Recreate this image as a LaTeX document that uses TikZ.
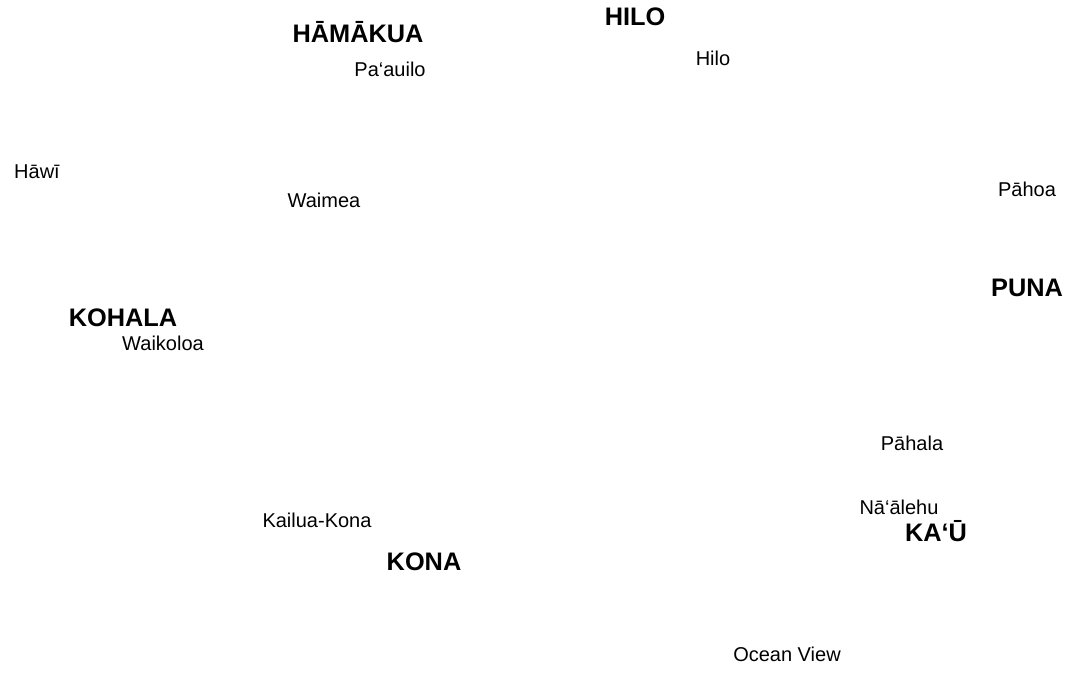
\documentclass[tikz,border=0pt]{standalone}
\usepackage{fontspec}
\setmainfont{Liberation Sans}
\usepackage{tikz}
\usetikzlibrary{positioning}

\begin{document}
\begin{tikzpicture}[x=0.75pt,y=-0.75pt,
    district/.style={font=\fontsize{19}{22}\selectfont\bfseries,inner sep=0pt},
    town/.style={font=\fontsize{15}{18}\selectfont,inner sep=0pt}]
  \useasboundingbox (0,0) rectangle (1066,694);
% districts
  \node[district] (hamakua) at (358,32)  {HĀMĀKUA};
  \node[district] (hilo)    at (635,17)  {HILO};
  \node[district] (puna)    at (1027,288) {PUNA};
  \node[district] (kohala)  at (123,318) {KOHALA};
  \node[district] (kau)     at (936,531) {KA‘Ū};
  \node[district] (kona)    at (424,562) {KONA};
% towns
  \node[town] (paauilo)   at (390,69)  {Pa‘auilo};
  \node[town] (hilotown)  at (713,58)  {Hilo};
  \node[town] (hawi)      at (37,172)  {Hāwī};
  \node[town] (waimea)    at (324,200) {Waimea};
  \node[town] (pahoa)     at (1027,189) {Pāhoa};
  \node[town] (waikoloa)  at (163,343) {Waikoloa};
  \node[town] (pahala)    at (912,443) {Pāhala};
  \node[town] (naalehu)   at (899,507) {Nā‘ālehu};
  \node[town] (kailua)    at (317,520) {Kailua-Kona};
  \node[town] (oceanview) at (787,654) {Ocean View};
\end{tikzpicture}
\end{document}
